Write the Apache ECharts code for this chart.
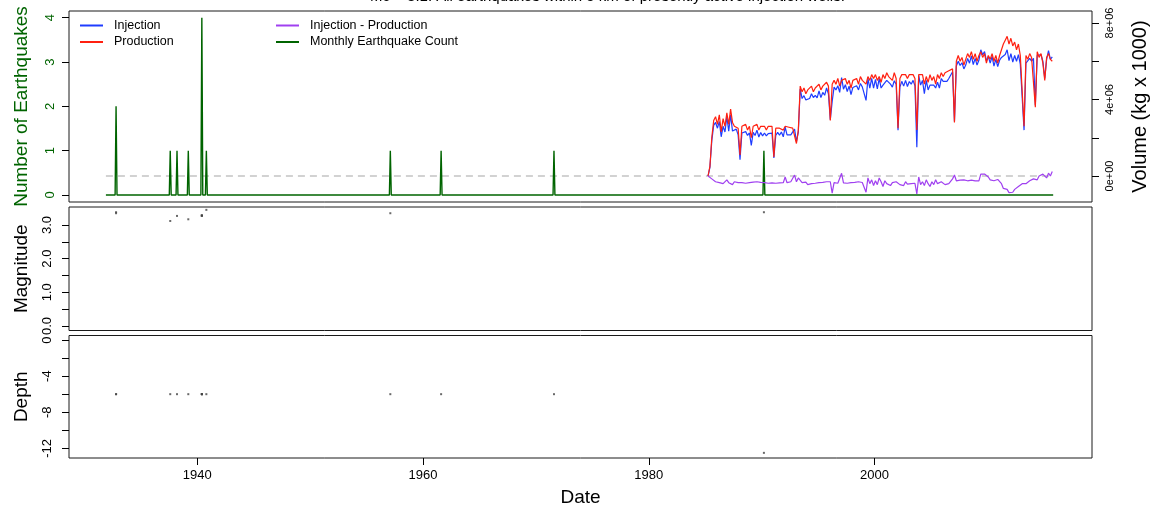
<!DOCTYPE html>
<html><head><meta charset="utf-8">
<script src="https://cdn.jsdelivr.net/npm/echarts@6/dist/echarts.min.js"></script>
<style>html,body{margin:0;padding:0;background:#fff}#c{width:1151px;height:515px}</style>
</head><body><div id="c"></div>
<script>
// ---------------- data ----------------
const titleText = 'Mc = 3.1. All earthquakes within 5 km of presently active injection wells.';
const xTicks = [1940, 1960, 1980, 2000];
const countTicks = [0, 1, 2, 3, 4];
const volumeTicks = [0, 2e6, 4e6, 6e6, 8e6];
const volumeLabels = [0, 4e6, 8e6];
const magTicks = [0, 0.5, 1, 1.5, 2, 2.5, 3];
const magLabels = [0, 1, 2, 3];
const depthTicks = [0, -2, -4, -6, -8, -10, -12];
const depthLabels = [0, -4, -8, -12];

// months with earthquakes (decimal year) and monthly counts
const eqMonths = [1932.8, 1937.6, 1938.2, 1939.2, 1940.4, 1940.8, 1957.1, 1961.6, 1971.6, 1990.2];
const eqCounts = [2, 1, 1, 1, 4, 1, 1, 1, 1, 1];
const countSpan = [1931.9, 2015.83];   // first and last month of the monthly count record

// individual earthquakes
const quakeDates  = [1932.8, 1932.8, 1937.6, 1938.2, 1939.2, 1940.4, 1940.4, 1940.4, 1940.4, 1940.8, 1957.1, 1961.6, 1971.6, 1990.2];
const quakeMags   = [3.35, 3.38, 3.12, 3.27, 3.17, 3.28, 3.28, 3.28, 3.28, 3.45, 3.35, null, null, 3.38];
const quakeDepths = [-6, -6, -6, -6, -6, -6, -6, -6, -6, -6, -6, -6, -6, -12.5];

// injection / production volumes (millions of kg x 1000), every two months from volStart
const volStart = 1985.25;
const volStep = 1 / 6;
const production = [
  0.0, 0.5, 2.0, 2.9, 3.1, 2.7,
  3.2, 2.3, 3.0, 2.6, 3.3, 2.7,
  3.5, 2.8, 2.6, 2.7, 2.5, 1.1,
  2.6, 2.5, 2.7, 2.4, 2.6, 2.0,
  2.6, 2.5, 2.7, 2.4, 2.6, 2.5,
  2.6, 2.4, 2.6, 2.5, 2.6, 1.0,
  2.5, 2.6, 2.5, 2.6, 2.4, 2.6,
  2.5, 2.55, 2.45, 2.5, 2.4, 1.7,
  2.4, 4.7, 4.4, 4.6, 4.3, 4.5,
  4.4, 4.7, 4.4, 4.6, 4.5, 4.8,
  4.5, 4.7, 4.6, 4.9, 4.7, 2.9,
  4.8, 5.0, 4.8, 5.1, 4.7, 5.0,
  4.9, 5.1, 4.8, 5.0, 4.6, 5.0,
  4.9, 5.1, 4.8, 5.2, 5.0, 5.1,
  4.8, 5.2, 5.0, 5.3, 5.1, 5.3,
  5.0, 5.2, 4.9, 5.3, 5.1, 5.4,
  5.2, 5.3, 5.0, 5.4, 5.1, 2.5,
  5.1, 5.3, 5.2, 5.3, 5.1, 5.3,
  5.2, 5.3, 5.1, 2.4, 5.3, 5.2,
  5.3, 4.8, 5.2, 4.9, 5.3, 5.0,
  5.2, 4.8, 5.3, 5.1, 5.4, 5.2,
  5.4, 5.3, 5.5, 5.4, 5.6, 2.8,
  6.0, 6.3, 6.0, 6.2, 5.8, 6.1,
  6.4, 6.2, 6.5, 6.1, 6.4, 6.0,
  6.3, 6.5, 6.2, 6.4, 5.9, 6.3,
  6.1, 6.4, 6.0, 6.3, 5.9, 6.3,
  6.6, 6.9, 7.1, 7.3, 6.9, 7.2,
  6.8, 7.0, 6.6, 6.9, 6.3, 6.2,
  2.6, 6.3, 6.1, 6.4, 6.2, 6.3,
  3.6, 6.5, 6.2, 6.4, 5.9, 5.0,
  6.2, 6.4, 6.1, 6.0
];
const injection = [
  0.0, 0.45, 1.85, 2.65, 2.8, 2.5,
  2.85, 2.05, 2.6, 2.3, 3.1, 2.35,
  3.2, 2.35, 2.3, 2.45, 2.15, 0.85,
  2.25, 2.2, 2.32, 2.12, 2.25, 1.6,
  2.28, 2.12, 2.4, 2.04, 2.27, 2.1,
  2.25, 2.1, 2.22, 2.17, 2.24, 0.95,
  2.12, 2.28, 2.14, 2.3, 2.05, 2.55,
  2.15, 2.17, 2.15, 2.14, 2.45, 1.8,
  2.3, 4.55, 4.05, 4.2, 3.98, 4.05,
  4.05, 4.3, 4.1, 4.22, 4.08, 4.45,
  4.1, 4.37, 4.22, 4.6, 4.3, 2.95,
  3.9, 4.65, 4.5, 4.72, 4.37, 5.14,
  4.54, 4.77, 4.42, 4.7, 4.25, 4.63,
  4.57, 4.72, 4.5, 4.84, 4.66, 4.72,
  3.95, 5.1, 4.6, 5.1, 4.6, 5.05,
  4.55, 5.1, 4.6, 4.75, 4.85, 5.0,
  4.9, 4.8, 4.65, 4.98, 4.8, 2.4,
  4.65, 4.95, 4.7, 5.0, 4.68, 4.94,
  4.8, 5.0, 4.72, 1.5, 5.25, 4.75,
  5.0, 4.3, 5.0, 4.5, 4.75, 4.7,
  4.75, 4.6, 4.9, 4.6, 5.1, 4.95,
  4.95, 4.95, 5.1, 5.1, 5.45, 2.85,
  5.75, 6.0, 5.78, 5.92, 5.6, 5.8,
  6.15, 5.9, 6.28, 5.83, 6.15, 5.8,
  6.05, 6.6, 6.34, 6.5, 6.02, 6.25,
  5.9, 6.25, 5.75, 6.1, 5.72, 6.05,
  6.2, 6.25, 6.35, 6.6, 6.03, 6.4,
  5.95, 6.3, 6.0, 6.35, 5.85, 5.8,
  2.4, 5.9, 5.8, 6.15, 6.0, 6.15,
  3.7, 6.3, 6.2, 6.35, 6.0, 5.1,
  6.1, 6.55, 6.1, 6.23
];
const difference = [
  0.0, -0.05, -0.15, -0.25, -0.3, -0.2,
  -0.35, -0.25, -0.4, -0.3, -0.2, -0.35,
  -0.3, -0.45, -0.3, -0.25, -0.35, -0.3,
  -0.35, -0.3, -0.38, -0.28, -0.35, -0.4,
  -0.32, -0.38, -0.3, -0.36, -0.33, -0.4,
  -0.35, -0.3, -0.38, -0.33, -0.36, -0.3,
  -0.38, -0.32, -0.36, -0.3, -0.35, -0.05,
  -0.35, -0.38, -0.3, -0.36, 0.05, -0.3,
  -0.1, -0.12, -0.35, -0.4, -0.32, -0.45,
  -0.35, -0.4, -0.3, -0.38, -0.42, -0.35,
  -0.4, -0.33, -0.38, -0.3, -0.4, -0.3,
  -0.9, -0.35, -0.3, -0.38, -0.33, 0.14,
  -0.36, -0.33, -0.38, -0.3, -0.35, -0.37,
  -0.33, -0.38, -0.3, -0.36, -0.34, -0.38,
  -0.85, -0.1, -0.4, -0.2, -0.5, -0.25,
  -0.45, -0.1, -0.3, -0.55, -0.25, -0.4,
  -0.3, -0.5, -0.35, -0.42, -0.3, -0.38,
  -0.45, -0.35, -0.5, -0.3, -0.42, -0.36,
  -0.4, -0.3, -0.38, -0.94, -0.05, -0.45,
  -0.3, -0.5, -0.2, -0.4, -0.55, -0.3,
  -0.45, -0.2, -0.4, -0.5, -0.3, -0.25,
  -0.45, -0.35, -0.4, -0.3, -0.15, 0.05,
  -0.25, -0.3, -0.22, -0.28, -0.2, -0.3,
  -0.25, -0.3, -0.22, -0.27, -0.25, -0.2,
  -0.25, 0.1, 0.14, 0.1, 0.12, -0.05,
  -0.2, -0.15, -0.25, -0.2, -0.18, -0.25,
  -0.4, -0.65, -0.75, -0.7, -0.87, -0.8,
  -0.85, -0.7, -0.6, -0.55, -0.45, -0.4,
  -0.35, -0.4, -0.3, -0.25, -0.2, -0.15,
  -0.1, -0.2, 0.0, -0.05, 0.1, 0.05,
  -0.1, 0.15, 0.0, 0.23
];

// ---------------- build ----------------
const FONT = '"Liberation Sans", Arial, Helvetica, sans-serif';
const VOL_UNIT = 1e6;
const volSeries = arr => arr.map((v, i) => [volStart + i * volStep, v * VOL_UNIT]);

const countLine = [[countSpan[0], 0]];
eqMonths.forEach((m, k) => {
  countLine.push([m - 1 / 12, 0], [m, eqCounts[k]], [m + 1 / 12, 0]);
});
countLine.push([countSpan[1], 0]);

const magPts = [];
const depthPts = [];
quakeDates.forEach((d, k) => {
  if (quakeMags[k] !== null) magPts.push([d, quakeMags[k]]);
  depthPts.push([d, quakeDepths[k]]);
});

const xExtent = { min: 1928.63, max: 2019.27 };
const gridBase = { left: 69, right: 59, show: true, borderColor: '#1a1a1a', borderWidth: 1,
  backgroundColor: 'transparent', containLabel: false, outerBoundsMode: 'none' };

function hiddenX(gi) {
  return { type: 'value', gridIndex: gi, min: xExtent.min, max: xExtent.max,
    axisLine: { show: false, onZero: false }, axisTick: { show: false }, axisLabel: { show: false }, splitLine: { show: false } };
}
function leftY(gi, min, max, ticks, labels, name, color, fmt, margin) {
  return {
    type: 'value', gridIndex: gi, position: 'left', min, max,
    axisLine: { show: false, onZero: false }, splitLine: { show: false },
    axisTick: { show: true, length: 7, customValues: ticks, lineStyle: { color: '#000', width: 1 } },
    axisLabel: { customValues: labels, rotate: 90, color, fontSize: 13, margin, fontFamily: FONT, formatter: fmt },
    name, nameLocation: 'middle', nameRotate: 90, nameGap: 38,
    nameTextStyle: { color, fontSize: 19, fontFamily: FONT }
  };
}

const option = {
  animation: false,
  textStyle: { fontFamily: FONT },
  graphic: [{
    type: 'text', x: 370, y: -3,
    style: { text: titleText, fontSize: 15, fontFamily: FONT, fill: '#000', align: 'left', verticalAlign: 'middle' }
  }],
  legend: [
    { data: ['Injection', 'Production'], orient: 'vertical', left: 80, top: 19, padding: 0,
      itemWidth: 23, itemHeight: 2, itemGap: 3.5, icon: 'rect', selectedMode: false,
      textStyle: { fontSize: 12.5, color: '#000', fontFamily: FONT, padding: [0, 0, 0, 6] } },
    { data: ['Injection - Production', 'Monthly Earthquake Count'], orient: 'vertical', left: 276, top: 19, padding: 0,
      itemWidth: 23, itemHeight: 2, itemGap: 3.5, icon: 'rect', selectedMode: false,
      textStyle: { fontSize: 12.5, color: '#000', fontFamily: FONT, padding: [0, 0, 0, 6] } }
  ],
  grid: [
    Object.assign({ top: 11, height: 191 }, gridBase),
    Object.assign({ top: 207, height: 123.5 }, gridBase),
    Object.assign({ top: 335.5, height: 122.5 }, gridBase)
  ],
  xAxis: [
    hiddenX(0), hiddenX(1),
    {
      type: 'value', gridIndex: 2, position: 'bottom', min: xExtent.min, max: xExtent.max,
      axisLine: { show: false, onZero: false }, splitLine: { show: false },
      axisTick: { show: true, length: 7, customValues: xTicks, lineStyle: { color: '#000', width: 1 } },
      axisLabel: { customValues: xTicks, fontSize: 13, color: '#000', margin: 11, fontFamily: FONT, formatter: v => String(v) },
      name: 'Date', nameLocation: 'middle', nameGap: 30,
      nameTextStyle: { fontSize: 19, color: '#000', fontFamily: FONT }
    }
  ],
  yAxis: [
    leftY(0, -0.158, 4.151, countTicks, countTicks, 'Number of Earthquakes', '#006400', v => String(v), 12),
    {
      type: 'value', gridIndex: 0, position: 'right', min: -1.359e6, max: 8.627e6,
      axisLine: { show: false, onZero: false }, splitLine: { show: false },
      axisTick: { show: true, length: 7, customValues: volumeTicks, lineStyle: { color: '#000', width: 1 } },
      axisLabel: { customValues: volumeLabels, rotate: 90, fontSize: 11, color: '#000', margin: 12, fontFamily: FONT,
        formatter: v => (v === 0 ? '0e+00' : Math.round(v / 1e6) + 'e+06') },
      name: 'Volume (kg x 1000)', nameLocation: 'middle', nameRotate: 90, nameGap: 38,
      nameTextStyle: { fontSize: 20, color: '#000', fontFamily: FONT }
    },
    leftY(1, -0.134, 3.535, magTicks, magLabels, 'Magnitude', '#000', v => v.toFixed(1), 15),
    leftY(2, -13.07, 0.5, depthTicks, depthLabels, 'Depth', '#000', v => String(v), 15)
  ],
  series: [
    { name: 'zero', type: 'line', xAxisIndex: 0, yAxisIndex: 1, symbol: 'none', silent: true,
      data: [[countSpan[0], 0], [countSpan[1], 0]],
      lineStyle: { color: '#c4c4c4', width: 1.5, type: [7, 5] } },
    { name: 'Monthly Earthquake Count', type: 'line', xAxisIndex: 0, yAxisIndex: 0, symbol: 'none', silent: true,
      data: countLine, itemStyle: { color: '#006400' }, lineStyle: { color: '#006400', width: 1.4 } },
    { name: 'Injection', type: 'line', xAxisIndex: 0, yAxisIndex: 1, symbol: 'none', silent: true,
      data: volSeries(injection), itemStyle: { color: '#1f3cff' }, lineStyle: { color: '#1f3cff', width: 1.2 } },
    { name: 'Production', type: 'line', xAxisIndex: 0, yAxisIndex: 1, symbol: 'none', silent: true,
      data: volSeries(production), itemStyle: { color: '#ff2010' }, lineStyle: { color: '#ff2010', width: 1.2 } },
    { name: 'Injection - Production', type: 'line', xAxisIndex: 0, yAxisIndex: 1, symbol: 'none', silent: true,
      data: volSeries(difference), itemStyle: { color: '#a040f0' }, lineStyle: { color: '#a040f0', width: 1.2 } },
    { name: 'Magnitude', type: 'scatter', xAxisIndex: 1, yAxisIndex: 2, symbol: 'rect', symbolSize: 2, silent: true,
      data: magPts, itemStyle: { color: '#444' } },
    { name: 'Depth', type: 'scatter', xAxisIndex: 2, yAxisIndex: 3, symbol: 'rect', symbolSize: 2, silent: true,
      data: depthPts, itemStyle: { color: '#444' } }
  ]
};
const chart = echarts.init(document.getElementById('c'));
chart.setOption(option);
</script>
</body></html>
